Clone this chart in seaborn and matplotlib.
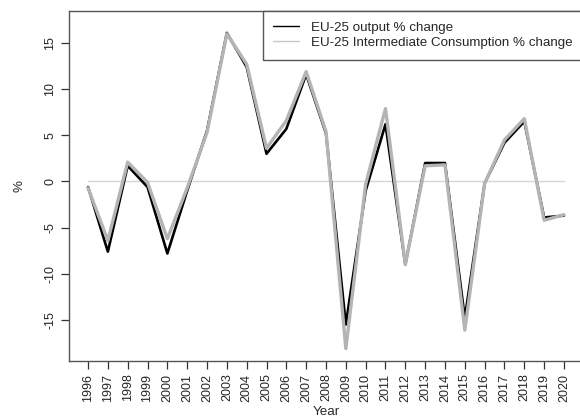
import numpy as np
import pandas as pd
import matplotlib
matplotlib.use("Agg")
import matplotlib.pyplot as plt
from matplotlib.lines import Line2D
import seaborn as sns

# ── data ──
years = list(range(1996, 2021))
output_change = [-0.6, -7.6, 1.7, -0.6, -7.8, -1.0, 5.5, 16.1, 12.4, 3.0,
                 5.7, 11.6, 5.2, -15.5, -1.0, 6.2, -9.0, 2.0, 2.0, -14.8,
                 -0.2, 4.2, 6.5, -3.9, -3.7]
ic_change = [-0.7, -6.4, 2.1, -0.1, -6.2, -0.7, 5.3, 16.0, 12.7, 3.6,
             6.6, 11.9, 5.4, -18.1, -0.3, 7.9, -9.0, 1.7, 1.8, -16.1,
             -0.2, 4.5, 6.8, -4.2, -3.6]
series_names = ["EU-25 output % change",
                "EU-25 Intermediate Consumption % change"]
y_ticks = [-15, -10, -5, 0, 5, 10, 15]

df = pd.DataFrame({"Year": years, "output": output_change, "ic": ic_change})

sns.set_style("white")
plt.rcParams["font.family"] = ["Liberation Sans", "DejaVu Sans"]

fig = plt.figure(figsize=(5.8, 4.18), dpi=100)
ax = fig.add_axes([69 / 580, 1 - 361 / 418, 514 / 580, 350 / 418])

ax.plot([years[0], years[-1]], [0, 0], color="#d6d6d6", lw=1.0, zorder=1)
sns.lineplot(data=df, x="Year", y="output", color="black", lw=1.9, ax=ax, zorder=2)
sns.lineplot(data=df, x="Year", y="ic", color="#b4b4b4", lw=2.4, ax=ax, zorder=3)

ax.set_xlim(1995.04, 2020.96)
ax.set_ylim(-19.45, 18.47)

ax.set_xticks(years)
ax.set_xticklabels([str(y) for y in years], rotation=90, fontsize=9)
ax.set_yticks(y_ticks)
ax.set_yticklabels([str(v) for v in y_ticks],
                   rotation=90, va="center", fontsize=9)
ax.tick_params(axis="both", direction="out", length=6, width=0.9,
               color="#333333", bottom=True, left=True, pad=3)

ax.set_xlabel("Year", fontsize=9.6, labelpad=3)
ax.set_ylabel("%", fontsize=9.6, labelpad=14)

for s in ax.spines.values():
    s.set_color("#555555")
    s.set_linewidth(1.0)

handles = [Line2D([], [], color="black", lw=1.0),
           Line2D([], [], color="#c8c8c8", lw=1.0)]
leg = ax.legend(handles, series_names, loc="upper right",
                bbox_to_anchor=(1.0, 1.0), borderaxespad=0,
                fontsize=9.6, fancybox=False, framealpha=1,
                edgecolor="#555555", handlelength=1.9, borderpad=0.8,
                labelspacing=0.2, handletextpad=0.9)
leg.get_frame().set_linewidth(1.0)

fig.savefig("out.png", dpi=100)
